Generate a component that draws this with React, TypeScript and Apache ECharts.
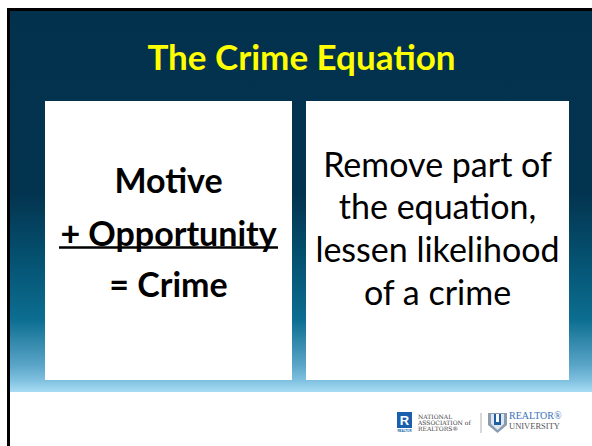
import React, { useEffect, useRef } from "react";
import * as echarts from "echarts";

const titleText = "The Crime Equation";
const leftLines = ["Motive", "+ Opportunity", "= Crime"];
const rightLines = ["Remove part of", "the equation,", "lessen likelihood", "of a crime"];
const narLines = ["NATIONAL", "ASSOCIATION of", "REALTORS®"];
const uniLines = ["REALTOR®", "UNIVERSITY"];

const FONT = "Lato, 'Open Sans', sans-serif";

export default function App() {
  const ref = useRef<HTMLDivElement>(null);
  useEffect(() => {
    const chart = echarts.init(ref.current!, null, { renderer: "svg" });
    const leftY = [179, 232, 283.5];
    const rightY = [163.5, 205.5, 248.5, 291.5];
    const elements: any[] = [
      {
        type: "rect",
        shape: { x: 10, y: 11, width: 582, height: 381 },
        style: {
          fill: new echarts.graphic.LinearGradient(0, 0, 0, 1, [
            { offset: 0, color: "#02314d" },
            { offset: 0.48, color: "#03344f" },
            { offset: 0.66, color: "#055373" },
            { offset: 0.81, color: "#0c6e91" },
            { offset: 0.93, color: "#5aa5c8" },
            { offset: 0.97, color: "#80c1e0" },
            { offset: 1, color: "#a8dcf4" },
          ]),
        },
        silent: true,
      },
      { type: "rect", shape: { x: 7, y: 8, width: 585, height: 3 }, style: { fill: "#000" } },
      { type: "rect", shape: { x: 7, y: 8, width: 3, height: 438 }, style: { fill: "#000" } },
      { type: "rect", shape: { x: 45, y: 101, width: 247, height: 279 }, style: { fill: "#fff" } },
      { type: "rect", shape: { x: 306, y: 101, width: 263, height: 279 }, style: { fill: "#fff" } },
      {
        type: "text",
        x: 301.5,
        y: 56,
        style: {
          text: titleText,
          fill: "#ffff00",
          font: `bold 35px ${FONT}`,
          align: "center",
          verticalAlign: "middle",
        },
      },
      { type: "line", shape: { x1: 59, y1: 247.5, x2: 278, y2: 247.5 }, style: { stroke: "#000", lineWidth: 2.5 } },
      { type: "rect", shape: { x: 397, y: 412, width: 15, height: 16 }, style: { fill: "#1a5fae" } },
      {
        type: "text",
        x: 404.5,
        y: 420,
        style: { text: "R", fill: "#fff", font: `bold 13px 'Liberation Sans', sans-serif`, align: "center", verticalAlign: "middle" },
      },
      {
        type: "text",
        x: 404.5,
        y: 430.5,
        style: { text: "REALTOR", fill: "#1a5fae", font: `bold 3px sans-serif`, align: "center", verticalAlign: "middle" },
      },
      { type: "line", shape: { x1: 481, y1: 413, x2: 481, y2: 433 }, style: { stroke: "#b0b0b0", lineWidth: 1 } },
      {
        type: "polygon",
        shape: { points: [[488, 413], [507, 413], [507, 425], [497.5, 433], [488, 425]] },
        style: { fill: "#8c9cb0" },
      },
      {
        type: "polygon",
        shape: { points: [[491, 414], [504, 414], [504, 424], [497.5, 430], [491, 424]] },
        style: { fill: "#dfe6ee" },
      },
      { type: "rect", shape: { x: 494, y: 414, width: 7, height: 11 }, style: { fill: "#1d5fa6" } },
      { type: "rect", shape: { x: 496, y: 414, width: 3, height: 8 }, style: { fill: "#fff" } },
    ];
    leftLines.forEach((t, i) => {
      elements.push({
        type: "text",
        x: 168.5,
        y: leftY[i],
        style: { text: t, fill: "#000", font: `bold 34px ${FONT}`, align: "center", verticalAlign: "middle" },
      });
    });
    rightLines.forEach((t, i) => {
      elements.push({
        type: "text",
        x: 437.5,
        y: rightY[i],
        style: { text: t, fill: "#000", font: `34px ${FONT}`, align: "center", verticalAlign: "middle" },
      });
    });
    narLines.forEach((t, i) => {
      elements.push({
        type: "text",
        x: 418,
        y: 416 + i * 6,
        style: { text: t, fill: "#444", font: `6px 'DejaVu Serif', serif`, align: "left", verticalAlign: "middle" },
      });
    });
    elements.push({
      type: "text",
      x: 509,
      y: 415.5,
      style: { text: uniLines[0], fill: "#3b72b8", font: `10px 'Liberation Serif', serif`, align: "left", verticalAlign: "middle" },
    });
    elements.push({
      type: "text",
      x: 509,
      y: 426,
      style: { text: uniLines[1], fill: "#555", font: `8.5px 'Liberation Serif', serif`, align: "left", verticalAlign: "middle" },
    });
    chart.setOption({ animation: false, backgroundColor: "#fff", graphic: { elements } });
    return () => chart.dispose();
  }, []);
  return <div ref={ref} style={{ position: "fixed", left: 0, top: 0, width: 592, height: 446 }} />;
}
